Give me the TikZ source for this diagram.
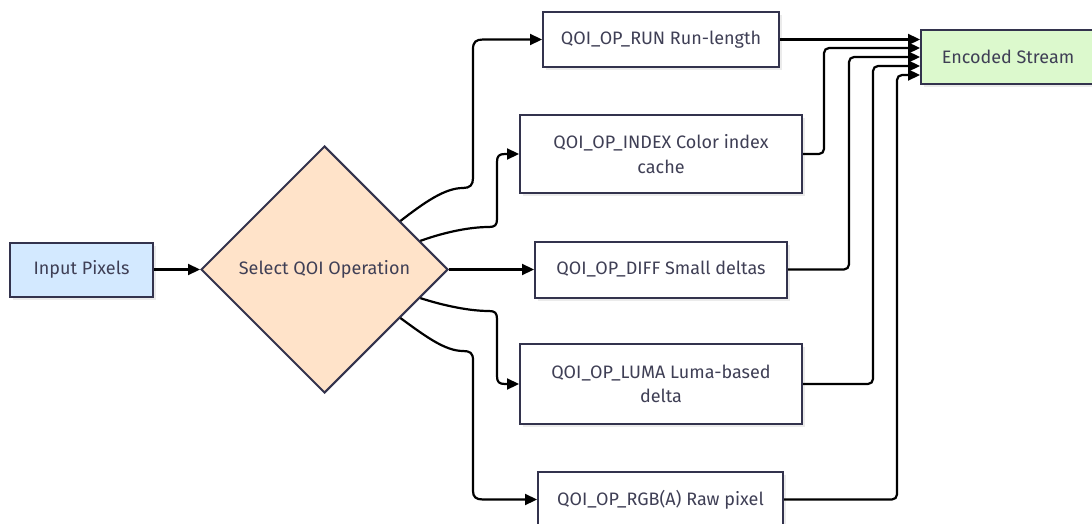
\documentclass[tikz,border=0pt]{standalone}
\usepackage{fontspec}
\setmainfont{Fira Sans}
\usetikzlibrary{arrows.meta,shapes.geometric,calc,shadows}
\definecolor{ink}{HTML}{33334D}
\definecolor{txt}{HTML}{3F3F55}
\definecolor{inblue}{HTML}{D3E9FF}
\definecolor{peach}{HTML}{FFE3C9}
\definecolor{mint}{HTML}{DCF9CD}
\begin{document}
\begin{tikzpicture}[x=1pt,y=-1pt,
  lbl/.style={text=txt, font=\fontsize{18}{24.5}\selectfont, align=center},
  box/.style={lbl, draw=ink, line width=2pt, fill=white, inner sep=0pt,
    drop shadow={shadow xshift=3pt, shadow yshift=-3pt, fill=black, opacity=0.08}},
  flow/.style={line width=2.2pt, draw=black, -{Triangle[length=12pt,width=11pt]}},
]
\useasboundingbox (0,0) rectangle (1092,524);
\clip (0,0) rectangle (1092,524);

% nodes
\node[box, fill=inblue, minimum width=143pt, minimum height=54pt] (in) at (81.5,269.5) {Input Pixels};
\node[lbl, diamond, aspect=1, draw=ink, line width=2pt, fill=peach, inner sep=0pt,
      minimum width=247pt, minimum height=247pt] (sel) at (324.5,269.5) {Select QOI Operation};

\node[box, minimum width=236pt, minimum height=55pt] (run)  at (661,39.5) {QOI\_OP\_RUN Run-length};
\node[box, minimum width=282pt, minimum height=78pt] (idx)  at (661,154)  {QOI\_OP\_INDEX Color index\\cache};
\node[box, minimum width=252pt, minimum height=56pt] (diff) at (661,269.5) {QOI\_OP\_DIFF Small deltas};
\node[box, minimum width=282pt, minimum height=80pt] (luma) at (661,384)  {QOI\_OP\_LUMA Luma-based\\delta};
\node[box, minimum width=245pt, minimum height=55pt] (rgb)  at (660.5,499.5) {QOI\_OP\_RGB(A) Raw pixel};
\node[box, fill=mint, minimum width=174pt, minimum height=54pt] (enc) at (1008,57) {Encoded Stream};

% exit points on the diamond's right-hand edges
\coordinate (u1) at ($(sel.north)!0.61!(sel.east)$);
\coordinate (u2) at ($(sel.north)!0.77!(sel.east)$);
\coordinate (l2) at ($(sel.south)!0.77!(sel.east)$);
\coordinate (l1) at ($(sel.south)!0.61!(sel.east)$);

% input to decision
\draw[flow] (in.east) -- (sel.west);

% decision to the five operations
\draw[flow] (u1) .. controls (425,202) and (445,188) .. (463,188)
  .. controls (470,188) and (473,185) .. (473,178) -- (473,49)
  .. controls (473,42) and (476,39.5) .. (483,39.5) -- (run.west);
\draw[flow] (u2) .. controls (445,232) and (470,227) .. (489,227)
  .. controls (495,227) and (497,225) .. (497,219) -- (497,162)
  .. controls (497,156) and (499,154) .. (505,154) -- (idx.west);
\draw[flow] (sel.east) -- (diff.west);
\draw[flow] (l2) .. controls (445,306) and (470,311) .. (489,311)
  .. controls (495,311) and (497,313) .. (497,319) -- (497,376)
  .. controls (497,382) and (499,384) .. (505,384) -- (luma.west);
\draw[flow] (l1) .. controls (425,336) and (445,351) .. (463,351)
  .. controls (470,351) and (473,353) .. (473,360) -- (473,491)
  .. controls (473,497) and (476,499.5) .. (483,499.5) -- (rgb.west);

% operations to the encoded stream
\draw[flow] (run.east) -- (run.east -| enc.west);
\draw[flow, rounded corners=5pt] (idx.east)  -- (824,154)   |- ($(enc.west)+(0,-9)$);
\draw[flow, rounded corners=5pt] (diff.east) -- (849,269.5) |- (enc.west);
\draw[flow, rounded corners=5pt] (luma.east) -- (873,384)   |- ($(enc.west)+(0,9)$);
\draw[flow, rounded corners=5pt] (rgb.east)  -- (897,499.5) |- ($(enc.west)+(0,18)$);
\end{tikzpicture}
\end{document}
